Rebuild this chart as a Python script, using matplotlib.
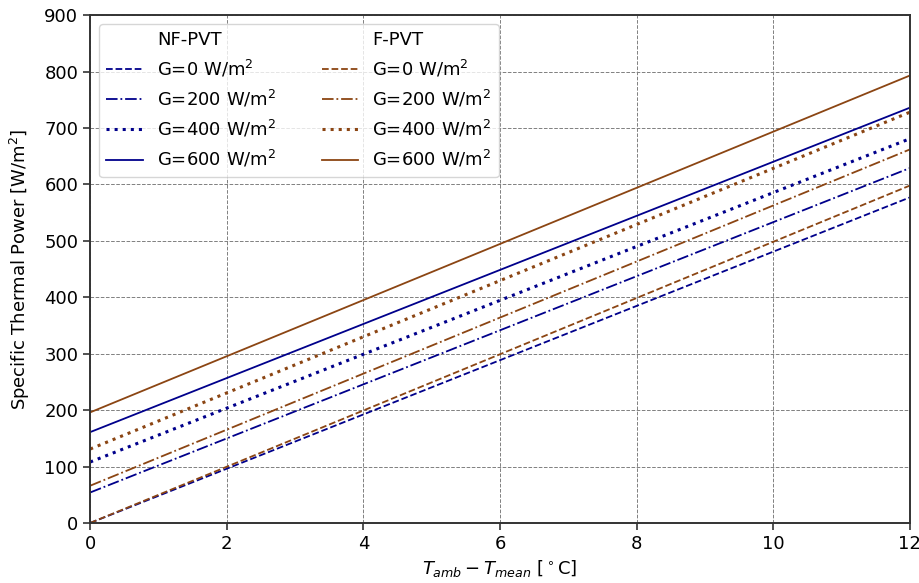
import numpy as np
import matplotlib
matplotlib.use('Agg')
import matplotlib.pyplot as plt

# temperature difference end points
x = [0, 12]
G_labels = ['G=0 W/m$^2$', 'G=200 W/m$^2$', 'G=400 W/m$^2$', 'G=600 W/m$^2$']

# specific thermal power at x=0 and x=12
nf_pvt = [[0, 577], [54, 629], [108, 681], [161, 736]]
f_pvt = [[0, 598], [66, 662], [131, 728], [196, 793]]

styles = ['--', '-.', ':', '-']
widths = [1.3, 1.3, 2.2, 1.3]
c_nf = '#00008B'
c_f = '#8B4513'

matplotlib.rc('font', size=13)

fig, ax = plt.subplots(figsize=(9.2, 5.83), dpi=100)

handles = []
labels = []
h, = ax.plot([], [], ' ')
handles.append(h); labels.append('NF-PVT')
for vals, ls, lw, lab in zip(nf_pvt, styles, widths, G_labels):
    h, = ax.plot(x, vals, linestyle=ls, color=c_nf, lw=lw)
    handles.append(h); labels.append(lab)
h, = ax.plot([], [], ' ')
handles.append(h); labels.append('F-PVT')
for vals, ls, lw, lab in zip(f_pvt, styles, widths, G_labels):
    h, = ax.plot(x, vals, linestyle=ls, color=c_f, lw=lw)
    handles.append(h); labels.append(lab)

ax.set_xlim(0, 12)
ax.set_ylim(0, 900)
ax.set_xticks(range(0, 13, 2))
ax.set_yticks(range(0, 901, 100))
ax.grid(True, linestyle='--', color='gray', lw=0.7)
ax.set_axisbelow(True)
for s in ax.spines.values():
    s.set_color('#333333')
    s.set_linewidth(1.4)
ax.tick_params(length=5, width=1.2, color='#333333')
ax.set_xlabel(r'$T_{amb} - T_{mean}$ [$^\circ$C]')
ax.set_ylabel('Specific Thermal Power [W/m$^2$]', labelpad=9)

ax.legend(handles, labels, ncol=2, loc='upper left', columnspacing=2.5)

plt.subplots_adjust(left=0.098, right=0.989, top=0.974, bottom=0.103)
plt.savefig('out.png')
